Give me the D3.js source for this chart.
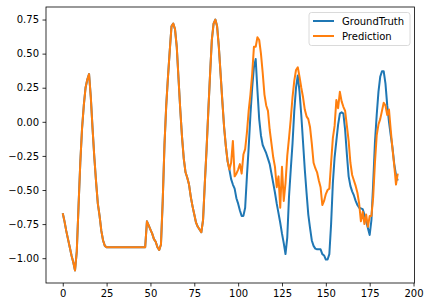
<!DOCTYPE html>
<html>
<head>
<meta charset="utf-8">
<script src="https://cdn.jsdelivr.net/npm/d3@7"></script>
<style>
  body { margin: 0; background: #fff; }
  svg { display: block; font-family: "DejaVu Sans", sans-serif; }
</style>
</head>
<body>
<div id="chart"></div>
<script>
// values for x = 0..95, where both series coincide
const common = [
  -0.67, -0.73, -0.80, -0.86, -0.92, -0.98, -1.03, -1.09, -0.95, -0.62,
  -0.30, -0.05, 0.12, 0.25, 0.31, 0.35, 0.18, -0.05, -0.26, -0.44,
  -0.60, -0.69, -0.80, -0.87, -0.91, -0.92, -0.92, -0.92, -0.92, -0.92,
  -0.92, -0.92, -0.92, -0.92, -0.92, -0.92, -0.92, -0.92, -0.92, -0.92,
  -0.92, -0.92, -0.92, -0.92, -0.92, -0.92, -0.92, -0.92, -0.73, -0.76,
  -0.79, -0.82, -0.86, -0.88, -0.92, -0.94, -0.90, -0.58, -0.17, 0.12,
  0.33, 0.52, 0.70, 0.72, 0.68, 0.55, 0.32, 0.09, -0.11, -0.27,
  -0.37, -0.41, -0.46, -0.55, -0.62, -0.68, -0.74, -0.77, -0.79, -0.81,
  -0.72, -0.45, -0.20, 0.08, 0.35, 0.60, 0.72, 0.75, 0.70, 0.55,
  0.35, 0.15, -0.04, -0.18, -0.29, -0.35
];

// x = 96..191
const truthTail = [
  -0.42, -0.46, -0.49, -0.56, -0.60, -0.65, -0.69, -0.69, -0.63, -0.40,
  -0.19, 0.05, 0.25, 0.40, 0.46, 0.23, 0.02, -0.10, -0.17, -0.20,
  -0.23, -0.27, -0.31, -0.38, -0.45, -0.52, -0.60, -0.67, -0.74, -0.82,
  -0.89, -0.97, -0.85, -0.55, -0.35, -0.16, 0.08, 0.25, 0.34, 0.22,
  0.05, -0.15, -0.35, -0.52, -0.68, -0.78, -0.87, -0.91, -0.93, -0.935,
  -0.935, -0.935, -0.97, -0.98, -1.01, -1.01, -0.97, -0.75, -0.45, -0.26,
  -0.14, -0.02, 0.06, 0.07, 0.06, -0.06, -0.24, -0.40, -0.47, -0.51,
  -0.54, -0.58, -0.61, -0.63, -0.635, -0.64, -0.68, -0.73, -0.78, -0.83,
  -0.72, -0.45, -0.15, 0.05, 0.22, 0.33, 0.37, 0.37, 0.28, 0.12,
  0.00, -0.10, -0.19, -0.31, -0.39, -0.43
];

const predTail = [
  -0.30, -0.14, -0.40, -0.38, -0.35, -0.31, -0.38, -0.24, -0.20, -0.08,
  0.08, 0.20, 0.35, 0.55, 0.55, 0.62, 0.60, 0.50, 0.36, 0.20,
  0.12, 0.08, -0.06, -0.16, -0.26, -0.33, -0.48, -0.40, -0.63, -0.33,
  -0.58, -0.45, -0.25, -0.12, 0.02, 0.18, 0.30, 0.38, 0.40, 0.33,
  0.25, 0.18, 0.09, 0.04, 0.02, -0.04, -0.16, -0.30, -0.34, -0.37,
  -0.43, -0.48, -0.61, -0.58, -0.53, -0.50, -0.49, -0.30, -0.12, -0.03,
  0.16, 0.10, 0.22, 0.15, 0.11, 0.08, -0.03, -0.14, -0.30, -0.39,
  -0.43, -0.47, -0.52, -0.60, -0.73, -0.66, -0.75, -0.68, -0.77, -0.69,
  -0.69, -0.55, -0.30, -0.10, -0.02, 0.02, 0.08, 0.14, 0.12, 0.05,
  0.09, -0.06, -0.20, -0.32, -0.46, -0.38
];

const groundTruth = common.concat(truthTail);
const prediction = common.concat(predTail);

const xTicks = [0, 25, 50, 75, 100, 125, 150, 175, 200];
const yTicks = [-1.00, -0.75, -0.50, -0.25, 0.00, 0.25, 0.50, 0.75];
const seriesNames = ["GroundTruth", "Prediction"];
const colors = ["#1f77b4", "#ff7f0e"];

const width = 432, height = 307;
const margin = { top: 7, right: 17.5, bottom: 24, left: 46 };

const svg = d3.select("#chart").append("svg")
  .attr("width", width)
  .attr("height", height);

const n = groundTruth.length;
const xPad = (n - 1) * 0.05;
const x = d3.scaleLinear()
  .domain([-xPad, n - 1 + xPad])
  .range([margin.left, width - margin.right]);

const all = groundTruth.concat(prediction);
const yMin = d3.min(all), yMax = d3.max(all);
const yPad = (yMax - yMin) * 0.05;
const y = d3.scaleLinear()
  .domain([yMin - yPad, yMax + yPad])
  .range([height - margin.bottom, margin.top]);

const fmt = v => d3.format(".2f")(v).replace("-", "\u2212");

// axes
svg.append("g")
  .attr("transform", `translate(0,${height - margin.bottom})`)
  .call(d3.axisBottom(x).tickValues(xTicks).tickSize(3.5).tickPadding(3.5).tickFormat(d3.format("d")))
  .call(g => g.select(".domain").remove());

svg.append("g")
  .attr("transform", `translate(${margin.left},0)`)
  .call(d3.axisLeft(y).tickValues(yTicks).tickSize(3.5).tickPadding(3.5).tickFormat(fmt))
  .call(g => g.select(".domain").remove());

svg.selectAll(".tick text")
  .attr("font-size", 10)
  .attr("fill", "#000")
  .attr("font-family", "DejaVu Sans, sans-serif");
svg.selectAll(".tick line").attr("stroke", "#000").attr("stroke-width", 0.8);

// lines
const line = d3.line()
  .x((d, i) => x(i))
  .y(d => y(d));

[groundTruth, prediction].forEach((s, k) => {
  svg.append("path")
    .datum(s)
    .attr("fill", "none")
    .attr("stroke", colors[k])
    .attr("stroke-width", 2)
    .attr("stroke-linejoin", "round")
    .attr("d", line);
});

// frame
svg.append("rect")
  .attr("x", margin.left)
  .attr("y", margin.top)
  .attr("width", width - margin.left - margin.right)
  .attr("height", height - margin.top - margin.bottom)
  .attr("fill", "none")
  .attr("stroke", "#000")
  .attr("stroke-width", 0.8);

// legend
const legend = svg.append("g").attr("transform", "translate(309,12.5)");
legend.append("rect")
  .attr("width", 101)
  .attr("height", 33)
  .attr("rx", 2.5)
  .attr("fill", "#fff")
  .attr("fill-opacity", 0.8)
  .attr("stroke", "#d0d0d0")
  .attr("stroke-width", 0.8);

seriesNames.forEach((name, k) => {
  const yy = 8.5 + k * 15;
  legend.append("line")
    .attr("x1", 4).attr("x2", 25)
    .attr("y1", yy).attr("y2", yy)
    .attr("stroke", colors[k])
    .attr("stroke-width", 2);
  legend.append("text")
    .attr("x", 33).attr("y", yy)
    .attr("dy", "0.35em")
    .attr("font-size", 10)
    .text(name);
});
</script>
</body>
</html>
